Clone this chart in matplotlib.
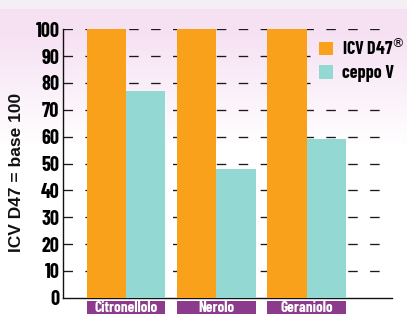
import numpy as np
import matplotlib.pyplot as plt
from matplotlib.patches import Rectangle
import matplotlib.transforms as mtransforms

categories = ['Citronellolo', 'Nerolo', 'Geraniolo']
icv_d47 = [100, 100, 100]
ceppo_v = [77, 48, 59]
series_names = ['ICV D47$^{\\circledR}$', 'ceppo V']
y_ticks = [0, 10, 20, 30, 40, 50, 60, 70, 80, 90, 100]
y_label = 'ICV D47 = base 100'

ORANGE = '#f9a11b'
TEAL = '#93d8d2'
PURPLE = '#8c3b8c'
COND = ['Barlow Condensed', 'DejaVu Sans']
cond_font = dict(family=COND, stretch='condensed', weight='bold')

W, H = 407, 314
fig = plt.figure(figsize=(W / 100, H / 100), dpi=100)

# pink to white background wash
bg = fig.add_axes([0, 0, 1, 1], zorder=-5)
rows = np.arange(H)
t = np.clip((rows - 35) / 110.0, 0, 1)[:, None]
pink = np.array([0.965, 0.885, 0.955])
white = np.array([1.0, 1.0, 1.0])
img = pink * (1 - t) + white * t
img[:9] = [0.96, 0.94, 0.96]
bg.imshow(np.repeat(img[:, None, :], 2, axis=1), aspect='auto', extent=[0, 1, 0, 1])
bg.axis('off')

left, right = 63 / W, 392 / W
bottom, top = (H - 297.7) / H, (H - 29.3) / H
ax = fig.add_axes([left, bottom, right - left, top - bottom])
ax.set_facecolor('none')

x = np.arange(len(categories))
bw = 0.436
ax.bar(x - bw / 2, icv_d47, bw, color=ORANGE, label=series_names[0], zorder=3)
ax.bar(x + bw / 2, ceppo_v, bw, color=TEAL, label=series_names[1], zorder=3)

ax.set_ylim(0, 100)
ax.set_xlim(-0.696, 2.94)
ax.set_yticks(y_ticks)
ax.set_yticklabels([str(v) for v in y_ticks], fontsize=14.5, **cond_font)
ax.set_xticks([])
ax.tick_params(axis='y', length=0, pad=2.5)

# dashed guide lines start at the spine, first dash doubles as tick
# (the legend sits over the 80 and 90 lines on the right)
for v in y_ticks[1:]:
    xmax = 0.75 if v in (80, 90) else 1.0
    ax.axhline(v, xmax=xmax, color='#1a1a1a', lw=0.95, ls=(0, (7.2, 9.4)), zorder=1)

for s in ['top', 'right']:
    ax.spines[s].set_visible(False)
for s in ['left', 'bottom']:
    ax.spines[s].set_linewidth(1.0)
    ax.spines[s].set_color('#111111')

ax.text(-0.142, 0.468, y_label, transform=ax.transAxes, rotation=90,
        ha='center', va='center', fontsize=12.5, fontweight='heavy',
        family=['Liberation Sans', 'DejaVu Sans'], color='#111111')

# purple category tags under the axis
trans = mtransforms.blended_transform_factory(ax.transData, ax.transAxes)
for xi, name in zip(x, categories):
    ax.add_patch(Rectangle((xi - bw, -0.09), 2 * bw, 0.079, transform=trans,
                           facecolor=PURPLE, edgecolor='none', clip_on=False))
    ax.text(xi, -0.052, name, transform=trans, ha='center', va='baseline',
            color='white', fontsize=11, **cond_font)

leg = ax.legend(loc='upper left', bbox_to_anchor=(319 / W, 1 - 38 / H),
                bbox_transform=fig.transFigure, frameon=False,
                handlelength=0.8, handleheight=0.8, handletextpad=0.45,
                labelspacing=0.35, borderpad=0.0, borderaxespad=0,
                prop={'family': COND, 'stretch': 'condensed', 'weight': 'bold', 'size': 13})
leg.set_zorder(5)

fig.savefig('out.png', dpi=100)
